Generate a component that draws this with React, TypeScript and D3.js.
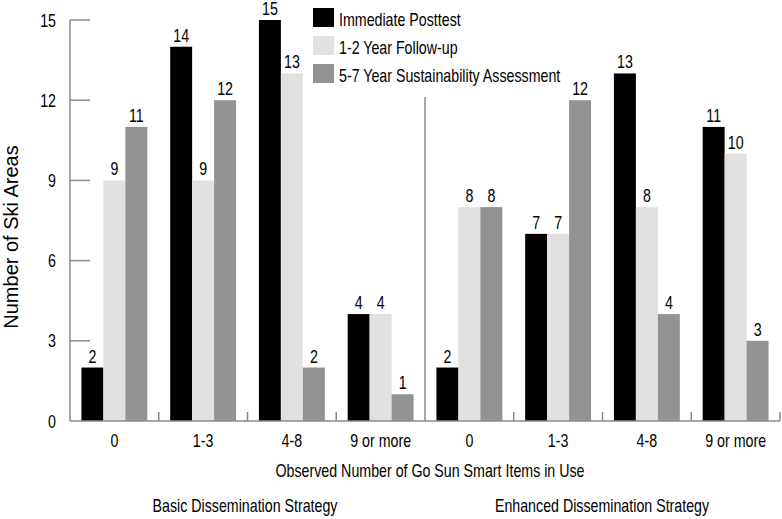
import React from "react";
import * as d3 from "d3";

const categories = ["0", "1-3", "4-8", "9 or more", "0", "1-3", "4-8", "9 or more"];
const strategies = ["Basic Dissemination Strategy", "Enhanced Dissemination Strategy"];
const seriesNames = ["Immediate Posttest", "1-2 Year Follow-up", "5-7 Year Sustainability Assessment"];
const immediate = [2, 14, 15, 4, 2, 7, 13, 11];
const followup = [9, 9, 13, 4, 8, 7, 8, 10];
const sustain = [11, 12, 2, 1, 8, 12, 4, 3];
const yTicks = [0, 3, 6, 9, 12, 15];
const colors = ["#000000", "#e1e1e1", "#939393"];

const FONT = "'Liberation Sans', Arial, sans-serif";
const SX = 0.79;

function T({ x, y, anchor = "start", size = 18, children }: { x: number; y: number; anchor?: string; size?: number; children: React.ReactNode }) {
  return (
    <text transform={`translate(${x},${y}) scale(${SX},1)`} textAnchor={anchor} fontSize={size} fill="#000">
      {children}
    </text>
  );
}

export default function App() {
  const W = 782, H = 519;
  const x0 = 70, x1 = 780, yBottom = 421, yTop = 20;
  const idx = categories.map((_, i) => i);
  const x = d3.scaleBand<number>().domain(idx).range([x0, x1]).paddingInner(0).paddingOuter(0);
  const y = d3.scaleLinear().domain([0, 15]).range([yBottom, yTop]);
  const inner = d3.scaleBand<number>().domain([0, 1, 2]).range([0, x.bandwidth()]).paddingOuter(0.52).paddingInner(0);
  const series = [immediate, followup, sustain];
  const bw = x.bandwidth();
  const dividerX = x(4)!;
  const axisColor = "#8a8a8a";

  return (
    <svg width={W} height={H} style={{ position: "absolute", left: 0, top: 0, background: "#fff" }} fontFamily={FONT}>
      {series.map((vals, s) =>
        vals.map((v, i) => {
          const bx = x(i)! + inner(s)!;
          return (
            <g key={`b${s}-${i}`}>
              <rect x={bx} y={y(v)} width={inner.bandwidth()} height={yBottom - y(v)} fill={colors[s]} />
              <T x={bx + inner.bandwidth() / 2} y={y(v) - 5} anchor="middle">
                {v}
              </T>
            </g>
          );
        })
      )}
      <line x1={x0} x2={x0} y1={yTop} y2={yBottom} stroke={axisColor} strokeWidth={1.5} />
      {yTicks.map((t) => (
        <g key={`yt${t}`}>
          {t > 0 && <line x1={x0} x2={x0 + 20} y1={y(t)} y2={y(t)} stroke={axisColor} strokeWidth={1.5} />}
          <T x={56} y={y(t) + 6.5} anchor="end">
            {t}
          </T>
        </g>
      ))}
      <line x1={x0} x2={x1} y1={yBottom} y2={yBottom} stroke={axisColor} strokeWidth={1.5} />
      {idx.map((i) =>
        i > 0 && i !== 4 ? (
          <line key={`xt${i}`} x1={x(i)!} x2={x(i)!} y1={yBottom} y2={yBottom - 9} stroke={axisColor} strokeWidth={1.5} />
        ) : null
      )}
      <line x1={x1} x2={x1} y1={yBottom} y2={yBottom - 9} stroke={axisColor} strokeWidth={1.5} />
      <line x1={dividerX} x2={dividerX} y1={97} y2={yBottom} stroke={axisColor} strokeWidth={1.5} />
      {categories.map((c, i) => (
        <T key={`xl${i}`} x={x(i)! + bw / 2} y={447} anchor="middle">
          {c}
        </T>
      ))}
      <T x={430} y={477} anchor="middle">
        Observed Number of Go Sun Smart Items in Use
      </T>
      <T x={245} y={512} anchor="middle">
        {strategies[0]}
      </T>
      <T x={602} y={512} anchor="middle">
        {strategies[1]}
      </T>
      <text transform={`translate(18, 237) rotate(-90)`} textAnchor="middle" fontSize={20} fill="#000">
        Number of Ski Areas
      </text>
      {seriesNames.map((n, k) => (
        <g key={`lg${k}`}>
          <rect x={313} y={8 + k * 28} width={21} height={19} fill={colors[k]} />
          <T x={339} y={26 + k * 28}>
            {n}
          </T>
        </g>
      ))}
    </svg>
  );
}
